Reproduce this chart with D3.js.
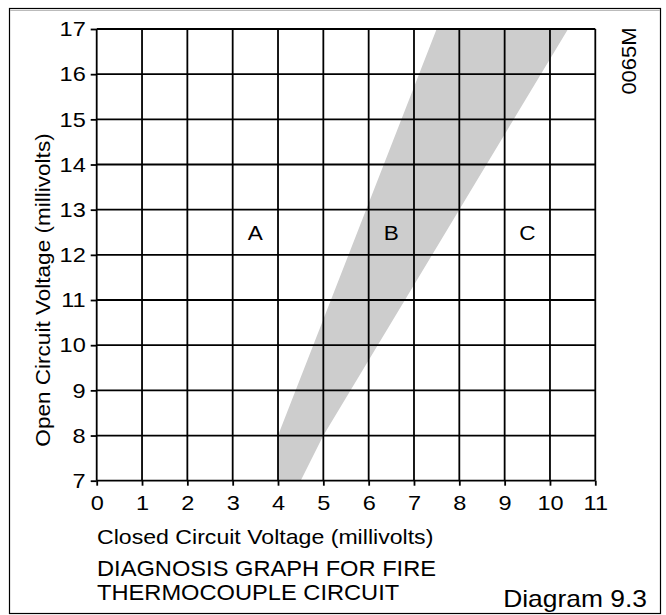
<!DOCTYPE html>
<html>
<head>
<meta charset="utf-8">
<script src="https://cdn.jsdelivr.net/npm/d3@7"></script>
<style>
  html, body { margin: 0; padding: 0; background: #fff; }
  svg text { font-family: "Liberation Sans", Arial, Helvetica, sans-serif; fill: #000; }
</style>
</head>
<body>
<svg id="chart" width="666" height="615"></svg>
<script>
// ---- data ----
const xTickValues = [0, 1, 2, 3, 4, 5, 6, 7, 8, 9, 10, 11];
const yTickValues = [7, 8, 9, 10, 11, 12, 13, 14, 15, 16, 17];
// band B boundary (closed-circuit mV, open-circuit mV)
const bandLeftEdge = [[4, 7], [4, 8], [7.5, 17]];
const bandRightEdge = [[10.4, 17], [5, 8], [4.5, 7]];
const zoneLabels = ["A", "B", "C"];
const zoneX = [3.5, 6.5, 9.5];
const zoneY = [12.5, 12.5, 12.5];
const xAxisTitle = "Closed Circuit Voltage (millivolts)";
const yAxisTitle = "Open Circuit Voltage (millivolts)";
const captionLines = ["DIAGNOSIS GRAPH FOR FIRE", "THERMOCOUPLE CIRCUIT"];
const diagramLabel = "Diagram 9.3";
const codeLabel = "0065M";

// ---- layout ----
const svg = d3.select("#chart");
function stretch(sel, k = 1.1) {
  sel.each(function () {
    const len = this.getComputedTextLength();
    if (len > 0) {
      this.setAttribute("textLength", len * k);
      this.setAttribute("lengthAdjust", "spacingAndGlyphs");
    }
  });
  return sel;
}

svg.append("rect").attr("width", 666).attr("height", 615).attr("fill", "#fff");
svg.append("rect")
  .attr("x", 9.5).attr("y", 8.5).attr("width", 651).attr("height", 605)
  .attr("fill", "none").attr("stroke", "#000").attr("stroke-width", 1.2);
svg.append("line").attr("x1", 10).attr("x2", 660).attr("y1", 10.5).attr("y2", 10.5)
  .attr("stroke", "#bbb").attr("stroke-width", 1);

const x = d3.scaleLinear().domain([0, 11]).range([96.7, 595.3]);
const y = d3.scaleLinear().domain([7, 17]).range([480.7, 29]);

// band
const bandPoly = bandLeftEdge.concat(bandRightEdge);
svg.append("path")
  .attr("d", d3.line().x(d => x(d[0])).y(d => y(d[1]))(bandPoly) + "Z")
  .attr("fill", "#cdcdcd").attr("stroke", "none");

// grid
const grid = svg.append("g").attr("stroke", "#000").attr("stroke-width", 1.8);
grid.selectAll("line.v").data(xTickValues).join("line")
  .attr("x1", d => x(d)).attr("x2", d => x(d))
  .attr("y1", y(17)).attr("y2", y(7));
grid.selectAll("line.h").data(yTickValues).join("line")
  .attr("y1", d => y(d)).attr("y2", d => y(d))
  .attr("x1", x(0)).attr("x2", x(11));

// axes
const xAxis = svg.append("g").attr("transform", `translate(0,${y(7)})`)
  .call(d3.axisBottom(x).tickValues(xTickValues).tickSize(5).tickPadding(9).tickFormat(d3.format("d")));
const yAxis = svg.append("g").attr("transform", `translate(${x(0)},0)`)
  .call(d3.axisLeft(y).tickValues(yTickValues).tickSize(6).tickPadding(5).tickFormat(d3.format("d")));
[xAxis, yAxis].forEach(a => {
  a.select(".domain").remove();
  a.selectAll(".tick line").attr("stroke", "#000").attr("stroke-width", 1.8);
  a.selectAll(".tick text").attr("fill", "#000").style("font-size", "21px")
    .attr("font-family", "Liberation Sans, Arial, sans-serif");
  stretch(a.selectAll(".tick text"), 1.12);
});

// zone labels
svg.selectAll("text.zone").data(zoneLabels).join("text")
  .attr("class", "zone")
  .attr("x", (d, i) => x(zoneX[i])).attr("y", (d, i) => y(zoneY[i]))
  .attr("text-anchor", "middle").attr("dominant-baseline", "central")
  .style("font-size", "20.5px").text(d => d)
  .call(stretch);

// axis titles
svg.append("text").attr("x", 97).attr("y", 544)
  .style("font-size", "21px").text(xAxisTitle).call(stretch);
svg.append("text")
  .attr("transform", "translate(50,290) rotate(-90)")
  .attr("text-anchor", "middle")
  .style("font-size", "20.5px").text(yAxisTitle).call(stretch);

// caption
svg.selectAll("text.cap").data(captionLines).join("text")
  .attr("class", "cap")
  .attr("x", 97).attr("y", (d, i) => 576 + i * 24)
  .style("font-size", "21.5px").text(d => d).call(stretch);

svg.append("text").attr("x", 647).attr("y", 607).attr("text-anchor", "end")
  .style("font-size", "24px").text(diagramLabel).call(stretch);

svg.append("text")
  .attr("transform", "translate(636,61) rotate(-90)")
  .attr("text-anchor", "middle")
  .style("font-size", "20px").text(codeLabel).call(stretch);
</script>
</body>
</html>
